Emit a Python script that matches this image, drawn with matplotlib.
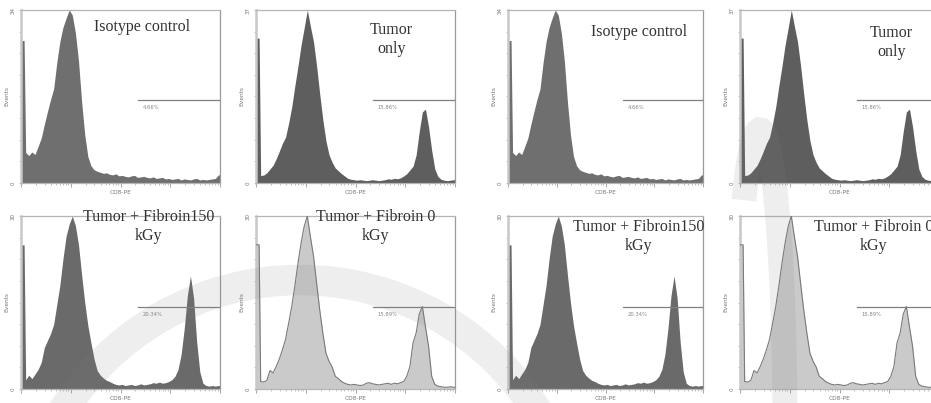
import numpy as np
import matplotlib.pyplot as plt
import matplotlib.patches as patches
from matplotlib.ticker import NullFormatter, LogLocator

# CD8-PE histograms, 64 log-spaced bins from 10^0 to 10^4 (events per bin)
iso_counts = [28, 6.0, 5.4, 6.1, 5.6, 7.2, 8.8, 11.5, 14.0, 16.4, 18.5, 23.6, 27.8, 30.6, 32.4, 34.0,
              33.0, 29.5, 24.0, 16.0, 9.5, 5.2, 3.4, 2.6, 2.3, 2.1, 1.9, 2.0, 1.7, 1.6, 1.8, 1.4,
              1.5, 1.3, 1.2, 1.4, 1.5, 1.1, 1.2, 1.3, 1.1, 1.0, 1.2, 0.9, 1.0, 1.1, 0.8, 0.9,
              0.7, 0.8, 0.9, 0.6, 0.8, 0.7, 0.6, 0.8, 0.9, 0.6, 0.7, 0.6, 0.7, 0.8, 0.9, 1.6]
tumor_counts = [31, 1.6, 1.7, 2.2, 3.0, 3.8, 5.2, 6.8, 8.5, 9.8, 12.8, 16.3, 20.8, 25.0, 29.5, 33.2,
                37.0, 33.5, 30.2, 25.0, 19.0, 13.5, 9.0, 6.0, 4.4, 3.2, 2.6, 2.0, 1.5, 1.0, 0.8, 0.7,
                0.6, 0.7, 0.6, 0.5, 0.6, 0.7, 0.6, 0.5, 0.6, 0.7, 0.9, 0.8, 1.0, 0.9, 1.1, 1.5,
                2.0, 2.8, 3.6, 6.0, 11.0, 15.2, 15.8, 12.0, 7.0, 3.0, 1.4, 0.8, 0.6, 0.5, 0.6, 0.7]
fib150_counts = [25, 1.6, 2.4, 1.8, 2.6, 3.4, 4.6, 7.2, 8.4, 9.6, 11.2, 14.6, 18.0, 22.6, 26.5, 28.6,
                 30.0, 28.3, 25.0, 19.8, 15.0, 11.0, 8.0, 5.2, 3.2, 2.4, 1.9, 1.5, 1.3, 1.0, 0.8, 0.7,
                 0.8, 0.6, 0.7, 0.8, 0.6, 0.7, 0.9, 0.7, 0.8, 0.9, 1.1, 1.0, 1.2, 1.0, 1.1, 1.3,
                 1.6, 2.2, 3.4, 6.0, 10.5, 16.2, 19.6, 15.8, 8.2, 3.0, 1.0, 0.6, 0.5, 0.6, 0.5, 0.6]
fib0_counts = [25, 1.3, 1.2, 1.5, 3.2, 2.8, 3.9, 5.2, 6.8, 8.6, 11.4, 14.3, 17.9, 21.8, 25.3, 28.2,
               30.0, 26.4, 23.0, 18.3, 13.7, 9.7, 6.2, 4.8, 3.8, 2.2, 1.8, 1.3, 1.0, 0.8, 0.7, 0.8,
               0.7, 0.6, 0.7, 1.0, 1.1, 0.9, 0.8, 0.7, 0.8, 0.9, 1.0, 0.8, 1.0, 0.9, 1.1, 1.3,
               2.2, 3.9, 8.0, 9.7, 13.0, 14.3, 10.8, 7.4, 2.2, 0.8, 0.5, 0.4, 0.3, 0.3, 0.4, 0.3]

titles = ["Isotype control", "Tumor\nonly", "Tumor + Fibroin150\nkGy", "Tumor + Fibroin 0\nkGy"]
y_max = [34, 37, 30, 30]
gate_labels = ["4.66%", "15.86%", "20.34%", "15.89%"]
gate_level = [16.3, 17.8, 14.2, 14.2]
gate_start = 224

hists = [iso_counts, tumor_counts, fib150_counts, fib0_counts]
fills = ['#6f6f6f', '#5e5e5e', '#6a6a6a', '#cacaca']
edges_col = [None, None, None, '#7a7a7a']

plt.rcParams['font.family'] = ['DejaVu Sans']
serif = ['Liberation Serif', 'DejaVu Serif']

fig = plt.figure(figsize=(9.31, 4.03), dpi=100)
W, H = 931, 403


def px_axes(left, top, width, height):
    return fig.add_axes([left / W, (H - top - height) / H, width / W, height / H])


def draw_hist(ax, k, tx, ty):
    counts = np.asarray(hists[k], dtype=float)
    top = y_max[k]
    bins = np.logspace(0, 4, len(counts) + 1)
    centers = np.sqrt(bins[:-1] * bins[1:])
    # first bin is the narrow pile-up spike on the axis, the rest is a smooth outline
    xs = np.concatenate([[bins[0], bins[1]], centers[1:], [bins[-1]]])
    ys = np.concatenate([[counts[0], counts[0]], counts[1:], [counts[-1]]])
    ax.fill_between(xs, 0, ys, color=fills[k], lw=0, zorder=2)
    if edges_col[k]:
        ax.plot(xs, ys, color=edges_col[k], lw=0.8, zorder=3)
    ax.set_xscale('log')
    ax.set_xlim(1, 1e4)
    ax.set_ylim(0, top)

    # gate marker
    ax.plot([gate_start, 1e4], [gate_level[k], gate_level[k]], color='#808080', lw=0.9, zorder=4)
    ax.text(gate_start * 1.25, gate_level[k] - top * 0.03, gate_labels[k], fontsize=3.8,
            color='#888888', va='top', ha='left', zorder=4)

    ax.xaxis.set_major_locator(LogLocator(base=10, numticks=10))
    ax.xaxis.set_minor_locator(LogLocator(base=10, subs=np.arange(2, 10), numticks=10))
    ax.xaxis.set_major_formatter(NullFormatter())
    ax.xaxis.set_minor_formatter(NullFormatter())
    ax.tick_params(axis='x', which='major', length=3, width=0.6, color='#999999')
    ax.tick_params(axis='x', which='minor', length=1.6, width=0.5, color='#aaaaaa')

    ax.set_yticks(np.linspace(0, top, 9))
    ax.set_yticklabels(['0'] + [''] * 7 + [str(top)], rotation=90, va='center')
    ax.tick_params(axis='y', length=1.8, width=0.5, color='#aaaaaa', labelsize=4,
                   labelcolor='#777777', pad=2)

    ax.set_xlabel('CD8-PE', fontsize=4.2, color='#777777')
    ax.xaxis.set_label_coords(0.5, -0.04)
    ax.set_ylabel('Events', fontsize=4.2, color='#777777', labelpad=1)

    for s in ax.spines.values():
        s.set_color('#b5b5b5')
        s.set_linewidth(0.9)
    ax.spines['left'].set_linewidth(1.8)
    ax.spines['left'].set_color('#c8c8c8')
    ax.spines['right'].set_color('#999999')

    ax.text(tx, ty, titles[k], transform=ax.transAxes, ha='center', va='center',
            fontsize=11.5, family=serif, color='#333333', linespacing=1.25, zorder=6)


# left half
draw_hist(px_axes(21, 10, 199, 173), 0, 0.61, 0.90)
draw_hist(px_axes(256, 10, 199, 173), 1, 0.68, 0.83)
draw_hist(px_axes(21, 216, 199, 173), 2, 0.64, 0.94)
draw_hist(px_axes(256, 216, 199, 173), 3, 0.60, 0.94)

# right half (same samples, cropped at the figure edge)
draw_hist(px_axes(508, 10, 195, 173), 0, 0.67, 0.87)
draw_hist(px_axes(740, 10, 199, 173), 1, 0.76, 0.81)
draw_hist(px_axes(508, 216, 195, 173), 2, 0.67, 0.88)
draw_hist(px_axes(740, 216, 199, 173), 3, 0.67, 0.88)

# faint watermark swooshes over the panels (pixel coords, y pointing down)
wm = fig.add_axes([0, 0, 1, 1], zorder=10)
wm.set_xlim(0, W)
wm.set_ylim(H, 0)
wm.axis('off')
wm.patch.set_alpha(0)
wm.add_patch(patches.Arc((300, 560), 560, 560, theta1=210, theta2=330,
                         lw=22, color='#808080', alpha=0.13))
wm.add_patch(patches.Arc((760, 430), 50, 600, theta1=266, theta2=360,
                         lw=18, color='#808080', alpha=0.13))

fig.savefig('out.png', dpi=100)
